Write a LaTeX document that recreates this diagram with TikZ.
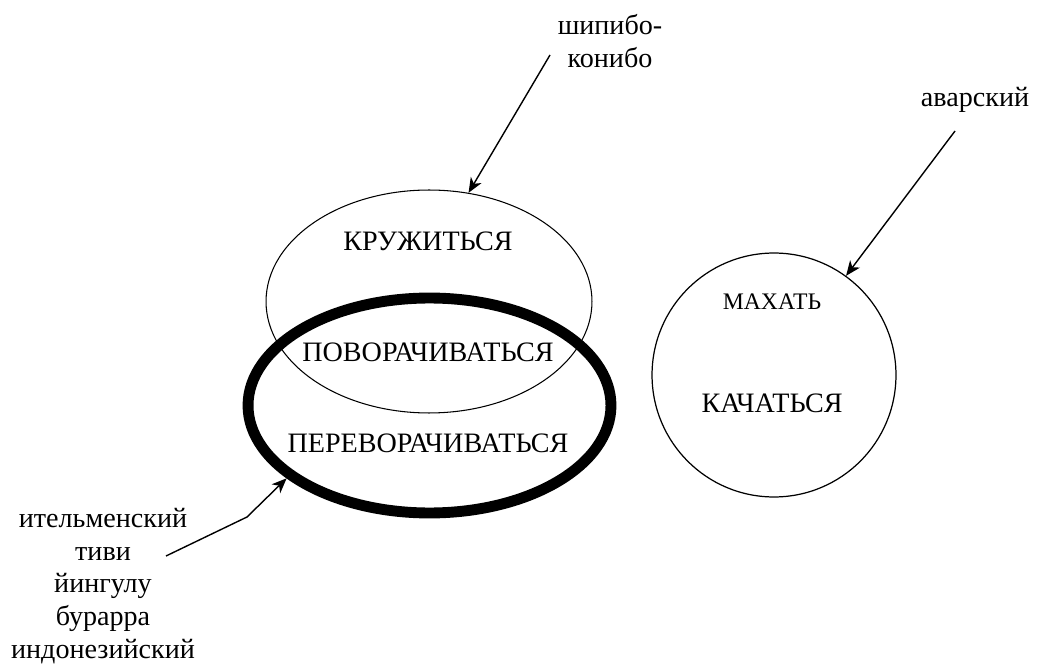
\documentclass[tikz,border=0pt]{standalone}
\usepackage{fontspec}
\setmainfont{Liberation Serif}
\usepackage{tikz}
\usetikzlibrary{arrows.meta,shapes.geometric}

\begin{document}
\begin{tikzpicture}[x=0.02cm,y=-0.02cm,
    oval/.style={draw,ellipse,inner sep=0pt},
    word/.style={font=\fontsize{16}{18}\selectfont,inner sep=0pt},
    lang/.style={font=\fontsize{16}{18.7}\selectfont,align=center,inner sep=0pt},
    ptr/.style={line width=0.8pt,-{Stealth[length=8.5pt,width=7pt,inset=2.5pt]}}]
    \useasboundingbox (0,0) rectangle (1040,668);
    % the two ovals and the circle
    \node[oval,line width=0.6pt,minimum width=6.52cm,minimum height=4.46cm] (krug) at (429,301.5) {};
    \node[oval,line width=6.2pt,minimum width=7.26cm,minimum height=4.3cm] (perev) at (429.5,405.5) {};
    \node[draw,circle,line width=0.7pt,minimum size=4.88cm,inner sep=0pt] (kach) at (774,375) {};
    % verbs
    \node[word] (kruzh) at (428,241) {КРУЖИТЬСЯ};
    \node[word] (povor) at (428,352) {ПОВОРАЧИВАТЬСЯ};
    \node[word] (perevt) at (428,443) {ПЕРЕВОРАЧИВАТЬСЯ};
    \node[word,font=\fontsize{13.5}{16}\selectfont] (mah) at (772,302) {МАХАТЬ};
    \node[word] (kacht) at (772,403) {КАЧАТЬСЯ};
    % languages
    \node[lang] (ship) at (610,41) {шипибо-\\конибо};
    \node[lang] (avar) at (975,100) {аварский};
    \node[lang] (list) at (103,586) {ительменский\\тиви\\йингулу\\бурарра\\индонезийский};
    % pointers
    \coordinate (shipfrom) at (550,55);
    \coordinate (avarfrom) at (955,131);
    \coordinate (listfrom) at (166,556);
    \coordinate (listbend) at (247,517);
    \draw[ptr] (shipfrom) -- (krug.70);
    \draw[ptr] (avarfrom) -- (kach.54);
    \draw[ptr] (listfrom) -- (listbend) -- (perev.207);
\end{tikzpicture}
\end{document}
